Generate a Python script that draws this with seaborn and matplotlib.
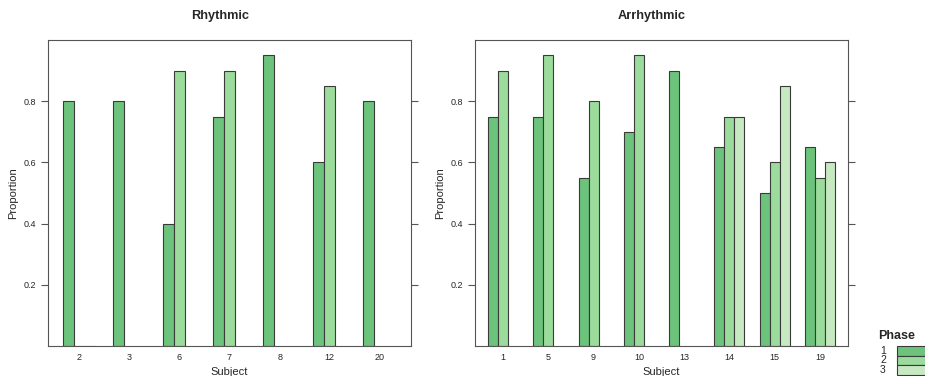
import numpy as np
import pandas as pd
import matplotlib
matplotlib.use("Agg")
import matplotlib.pyplot as plt
import seaborn as sns
from matplotlib.patches import Rectangle

# Rhythmic group: proportion per subject and phase (nan = no bar)
rhy_subjects = ["2", "3", "6", "7", "8", "12", "20"]
rhy_phase1 = [0.80, 0.80, 0.40, 0.75, 0.95, 0.60, 0.80]
rhy_phase2 = [0.0, np.nan, 0.90, 0.90, np.nan, 0.85, np.nan]
rhy_phase3 = [0.0, np.nan, np.nan, np.nan, np.nan, np.nan, np.nan]

# Arrhythmic group
arr_subjects = ["1", "5", "9", "10", "13", "14", "15", "19"]
arr_phase1 = [0.75, 0.75, 0.55, 0.70, 0.90, 0.65, 0.50, 0.65]
arr_phase2 = [0.90, 0.95, 0.80, 0.95, np.nan, 0.75, 0.60, 0.55]
arr_phase3 = [np.nan, np.nan, np.nan, np.nan, np.nan, 0.75, 0.85, 0.60]

phases = ["1", "2", "3"]
colors = ["#6cc47c", "#9bdb9c", "#c6e9c2"]


def make_df(subjects, p1, p2, p3):
    rows = []
    for vals, ph in zip([p1, p2, p3], phases):
        for s, v in zip(subjects, vals):
            rows.append({"Subject": s, "Phase": ph, "Proportion": v})
    return pd.DataFrame(rows).dropna()


rhy = make_df(rhy_subjects, rhy_phase1, rhy_phase2, rhy_phase3)
arr = make_df(arr_subjects, arr_phase1, arr_phase2, arr_phase3)

sns.set_style("white")
plt.rcParams["font.family"] = ["Liberation Sans", "DejaVu Sans"]

fig = plt.figure(figsize=(9.25, 3.76), dpi=100)
ax1 = fig.add_axes([0.0519, 0.0798, 0.3924, 0.8138])
ax2 = fig.add_axes([0.5135, 0.0798, 0.4032, 0.8138])

for ax, df, subs, title in [(ax1, rhy, rhy_subjects, "Rhythmic"),
                            (ax2, arr, arr_subjects, "Arrhythmic")]:
    sns.barplot(
        data=df, x="Subject", y="Proportion", hue="Phase",
        order=subs, hue_order=phases, palette=colors, saturation=1,
        width=0.66, errorbar=None, edgecolor="#3a3a3a", linewidth=0.8,
        legend=False, ax=ax
    )
    ax.set_ylim(0, 1.0)
    ax.set_xlim(-0.62, len(subs) - 1 + 0.62)
    ax.set_yticks([0.2, 0.4, 0.6, 0.8])
    ax.set_yticklabels(["0.2", "0.4", "0.6", "0.8"])
    ax.set_title(title, fontsize=9.2, fontweight="bold", pad=15, x=0.473)
    ax.set_xlabel("Subject", fontsize=8, labelpad=4)
    ax.set_ylabel("Proportion", fontsize=8)
    ax.tick_params(axis="y", which="both", direction="out", length=5,
                   width=0.8, color="#555555", labelsize=6.5,
                   left=True, right=True, labelright=False)
    ax.tick_params(axis="x", length=0, labelsize=6.5, pad=5)
    for side in ["left", "bottom", "right", "top"]:
        ax.spines[side].set_color("#555555")
        ax.spines[side].set_linewidth(0.8)

# legend drawn like the lattice key at bottom right
fig.text(897 / 925, 0.09, "Phase", fontsize=9, fontweight="bold",
         ha="center", va="bottom")
box_h = 9.5 / 376
for i, (ph, c) in enumerate(zip(phases, colors)):
    y0 = (376 - 346) / 376 - (i + 1) * box_h
    fig.patches.append(Rectangle((897 / 925, y0), 40 / 925, box_h,
                                 transform=fig.transFigure,
                                 facecolor=c, edgecolor="#3a3a3a",
                                 linewidth=0.8))
    fig.text(883 / 925, y0 + box_h / 2, ph, fontsize=7.5,
             ha="center", va="center")

plt.savefig("out.png", dpi=100)
